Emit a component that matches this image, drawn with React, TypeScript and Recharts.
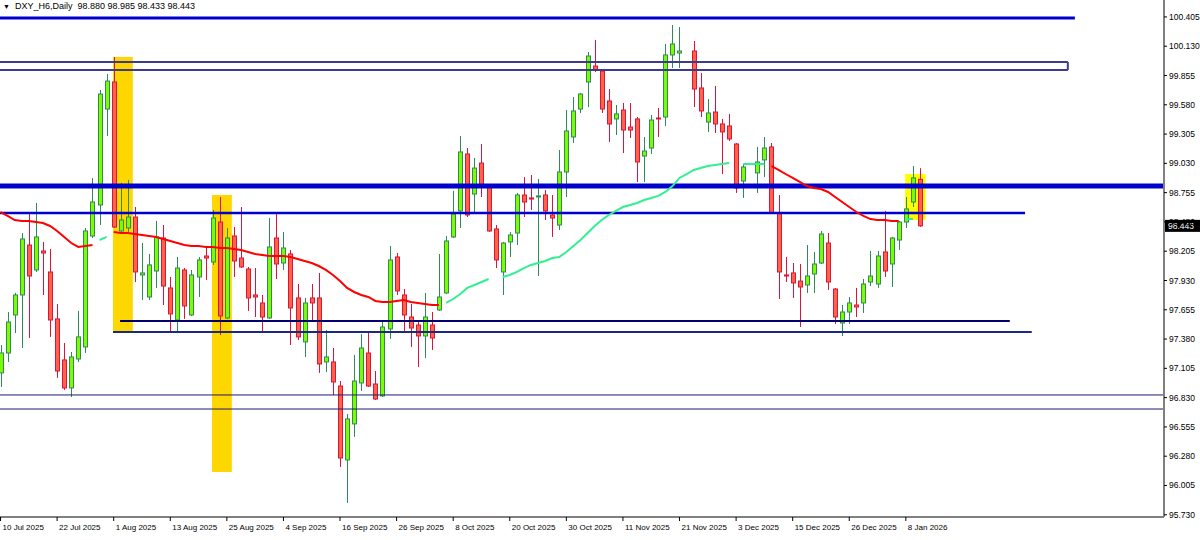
import { ComposedChart, Bar, Line, XAxis, YAxis, ReferenceLine, ReferenceArea } from 'recharts'

document.body.style.margin = '0'

const FONT = '"Liberation Sans", Arial, sans-serif'

// daily bars, 10 Jul 2025 .. 9 Jan 2026 (two days show no bar)
const opens = [
  97.062, 97.249, 97.606, 97.794, 98.263, 98.029, 98.207, 98.010, 97.569, 97.184,
  96.921, 97.193, 97.306, 98.348, 98.639, 99.540, 99.794, 98.395, 98.423, 98.526,
  97.982, 97.775, 98.019, 98.329, 97.860, 97.559, 98.029, 97.606, 97.963, 98.160,
  98.104, 98.479, 97.578, 98.348, 98.141, 98.038, 97.794, 97.719, 97.578, 98.329,
  98.094, 98.179, 97.766, 97.353, 97.766, 97.766, 97.165, 97.165, 96.939, 96.245,
  96.583, 96.968, 97.249, 96.958, 96.846, 97.475, 98.151, 97.794, 97.587, 97.512,
  97.409, 97.512, 97.653, 97.813, 98.339, 98.583, 99.118, 98.742, 99.033, 98.808,
  98.414, 98.010, 98.292, 98.376, 98.733, 98.705, 98.714, 98.733, 98.545, 98.451,
  98.949, 99.278, 99.540, 99.794, 99.944, 99.897, 99.616, 99.447, 99.531, 99.371,
  99.447, 99.099, 99.174, 99.456, 99.465, 100.048, 100.066, null, 100.085, 99.738,
  99.418, 99.512, 99.400, 99.381, 99.212, 98.864, null, 98.940, 99.062, 99.184,
  98.564, 97.982, 98.001, 97.925, 97.888, 97.991, 98.094, 98.282, 97.850, 97.531,
  97.634, 97.700, 97.719, 97.916, 97.897, 98.198, 98.085, 98.310, 98.479, 98.667,
  98.880,
]

const highs = [
  97.324, 97.634, 97.813, 98.376, 98.573, 98.658, 98.292, 98.226, 97.709, 97.343,
  97.259, 97.644, 98.423, 98.893, 99.719, 99.869, 100.029, 98.846, 98.874, 98.620,
  98.282, 98.179, 98.489, 98.451, 97.963, 98.151, 98.047, 98.029, 98.151, 98.254,
  98.592, 98.714, 98.423, 98.432, 98.620, 98.057, 98.047, 97.794, 98.517, 98.564,
  98.386, 98.216, 97.897, 97.766, 97.897, 98.001, 97.465, 97.296, 96.986, 96.677,
  97.231, 97.428, 97.437, 97.080, 97.540, 98.254, 98.188, 97.850, 97.709, 97.559,
  97.813, 97.634, 98.179, 98.348, 98.771, 99.287, 99.174, 99.080, 99.212, 98.817,
  98.451, 98.292, 98.386, 98.752, 98.902, 98.921, 98.883, 98.780, 98.733, 99.155,
  99.531, 99.653, 99.691, 100.076, 100.188, 99.907, 99.728, 99.578, 99.597, 99.597,
  99.465, 99.278, 99.484, 99.550, 100.151, 100.329, 100.310, null, 100.179, 99.879,
  99.634, 99.756, 99.447, 99.494, 99.221, 99.024, null, 99.184, 99.278, 99.221,
  98.733, 98.151, 98.094, 98.085, 98.263, 98.198, 98.395, 98.376, 97.860, 97.700,
  97.775, 97.860, 97.944, 98.207, 98.207, 98.583, 98.339, 98.489, 98.714, 99.005,
  98.985,
]

const lows = [
  96.930, 97.165, 97.437, 97.296, 97.390, 98.010, 97.794, 97.400, 97.015, 96.902,
  96.836, 97.165, 97.249, 98.329, 98.451, 99.287, 98.423, 98.376, 98.386, 97.916,
  97.747, 97.747, 97.860, 97.700, 97.437, 97.447, 97.569, 97.597, 97.775, 97.935,
  98.076, 97.418, 97.569, 97.963, 98.047, 97.644, 97.587, 97.447, 97.569, 97.944,
  98.029, 97.324, 97.371, 97.212, 97.559, 97.062, 97.071, 96.855, 96.179, 95.841,
  96.461, 96.893, 96.930, 96.808, 96.836, 97.381, 97.794, 97.456, 97.306, 97.118,
  97.202, 97.277, 97.644, 97.803, 98.329, 98.423, 98.526, 98.564, 98.714, 98.386,
  98.047, 97.794, 98.151, 98.263, 98.526, 98.592, 97.972, 98.498, 98.339, 98.404,
  98.714, 99.221, 99.503, 99.559, 99.888, 99.503, 99.231, 99.296, 99.127, 99.268,
  98.855, 98.855, 99.118, 99.278, 99.381, 99.925, 99.925, null, 99.559, 99.465,
  99.325, 99.315, 98.930, 99.240, 98.752, 98.705, null, 98.752, 98.902, 98.555,
  97.756, 97.916, 97.766, 97.493, 97.813, 97.813, 98.085, 97.841, 97.522, 97.409,
  97.522, 97.587, 97.625, 97.878, 97.860, 97.963, 97.869, 98.216, 98.423, 98.620,
  98.433,
]

const closes = [
  97.249, 97.540, 97.794, 98.320, 97.972, 98.339, 98.188, 97.559, 97.080, 96.921,
  97.212, 97.400, 98.395, 98.667, 99.681, 99.803, 98.432, 98.498, 98.526, 98.010,
  98.001, 98.076, 98.339, 97.878, 97.616, 98.047, 97.691, 97.982, 98.123, 98.141,
  98.517, 97.597, 98.329, 98.113, 98.057, 97.766, 97.775, 97.587, 98.245, 98.085,
  98.235, 97.672, 97.400, 97.719, 97.719, 97.146, 97.212, 96.977, 96.263, 96.630,
  96.986, 97.296, 96.939, 96.817, 97.493, 98.123, 97.832, 97.606, 97.484, 97.409,
  97.587, 97.390, 97.775, 98.301, 98.555, 99.137, 98.545, 98.986, 98.808, 98.395,
  98.123, 98.282, 98.357, 98.733, 98.667, 98.695, 98.724, 98.583, 98.517, 98.949,
  99.334, 99.522, 99.681, 100.038, 99.907, 99.540, 99.400, 99.494, 99.343, 99.343,
  99.043, 99.146, 99.437, 99.447, 100.048, 100.151, 100.085, null, 99.728, 99.522,
  99.503, 99.400, 99.325, 99.259, 98.799, 98.996, null, 99.043, 99.174, 98.564,
  98.010, 97.972, 97.907, 97.869, 97.972, 98.085, 98.367, 97.916, 97.587, 97.634,
  97.719, 97.681, 97.897, 97.972, 98.160, 98.019, 98.329, 98.479, 98.602, 98.893,
  98.443,
]

// moving average, split by slope colour
const maFalling = [
  98.573, 98.536, 98.498, 98.489, 98.489, 98.479, 98.470, 98.442, 98.395, 98.339,
  98.282, 98.245, 98.254, 98.263, null, null, 98.386, 98.376, 98.376, 98.367,
  98.357, 98.348, 98.339, 98.320, 98.301, 98.282, 98.263, 98.254, 98.254, 98.245,
  98.245, 98.235, 98.235, 98.226, 98.216, 98.198, 98.179, 98.170, 98.160, 98.160,
  98.160, 98.151, 98.132, 98.113, 98.094, 98.066, 98.029, 97.982, 97.925, 97.860,
  97.822, 97.794, 97.775, 97.738, 97.728, 97.728, 97.738, 97.747, 97.728, 97.719,
  97.709, 97.700, 97.700, null, null, null, null, null, null, null,
  null, null, null, null, null, null, null, null, null, null,
  null, null, null, null, null, null, null, null, null, null,
  null, null, null, null, null, null, null, null, null, null,
  null, null, null, null, null, null, null, null, null, 99.005,
  98.968, 98.930, 98.893, 98.855, 98.817, 98.799, 98.789, 98.761, 98.714, 98.667,
  98.620, 98.573, 98.536, 98.507, 98.498, 98.498, 98.489, 98.489, null, null,
  null,
]

const maRising = [
  null, null, null, null, null, null, null, null, null, null,
  null, null, null, null, 98.310, 98.339, null, null, null, null,
  null, null, null, null, null, null, null, null, null, null,
  null, null, null, null, null, null, null, null, null, null,
  null, null, null, null, null, null, null, null, null, null,
  null, null, null, null, null, null, null, null, null, null,
  null, null, null, 97.719, 97.756, 97.803, 97.860, 97.888, 97.916, 97.944,
  null, 97.963, 97.982, 98.010, 98.047, 98.076, 98.094, 98.113, 98.141, 98.151,
  98.198, 98.254, 98.310, 98.376, 98.442, 98.498, 98.545, 98.583, 98.620, 98.639,
  98.658, 98.686, 98.705, 98.724, 98.761, 98.817, 98.893, 98.930, 98.968, 98.986,
  99.005, 99.015, 99.024, 99.033, null, 99.024, 99.024, 99.024, 99.024, null,
  null, null, null, null, null, null, null, null, null, null,
  null, null, null, null, null, null, null, null, 98.507, 98.507,
  null,
]

const dateLabels = [
  '10 Jul 2025', '22 Jul 2025', '1 Aug 2025', '13 Aug 2025', '25 Aug 2025', '4 Sep 2025',
  '16 Sep 2025', '26 Sep 2025', '8 Oct 2025', '20 Oct 2025', '30 Oct 2025', '11 Nov 2025',
  '21 Nov 2025', '3 Dec 2025', '15 Dec 2025', '26 Dec 2025', '8 Jan 2026',
]
const LABEL_STEP = 8

const priceTicks = [
  100.405, 100.13, 99.855, 99.58, 99.305, 99.03, 98.755, 98.48, 98.205,
  97.93, 97.655, 97.38, 97.105, 96.83, 96.555, 96.28, 96.005, 95.73,
]

// drawn horizontal levels
const levelTop = 100.395
const boxHigh = 99.982
const boxLow = 99.907
const resistance = 98.817
const pivot = 98.564
const supportHigh = 97.55
const supportLow = 97.447
const floorHigh = 96.855
const floorLow = 96.723

// highlighted zones: [high, low]
const zoneAug1 = [100.029, 97.437]
const zoneAug22 = [98.733, 96.132]
const zoneJan = [98.93, 98.498]

const symbol = 'DXY_H6,Daily'

const rows = opens.map((o, i) => ({
  i,
  o,
  h: highs[i],
  l: lows[i],
  c: closes[i],
  maDown: maFalling[i],
  maUp: maRising[i],
}))

const tickIdx = dateLabels.map((_, k) => k * LABEL_STEP)
const last = rows[rows.length - 1]

const UP_BODY = '#7cfc00'
const UP_EDGE = '#2e8b57'
const DN_BODY = '#ff6347'
const DN_EDGE = '#dc143c'
const LINE_BLUE = '#0000cd'

function Candle(props: any) {
  const { x, y, width, height, payload } = props
  if (!payload || payload.o == null || y == null || height == null) return null
  const { o, h, l, c } = payload
  const top = Math.min(y, y + height)
  const span = Math.abs(height)
  const py = (p: number) => top + ((h - p) / (h - l)) * span
  const cx = Math.round(x + width / 2)
  const up = c >= o
  const bodyTop = py(Math.max(o, c))
  const bodyH = Math.max(1, py(Math.min(o, c)) - bodyTop)
  const edge = up ? UP_EDGE : DN_EDGE
  return (
    <g>
      <line x1={cx + 0.5} x2={cx + 0.5} y1={top} y2={top + span} stroke={edge} strokeWidth={1} />
      <rect
        x={cx - 1.5}
        y={bodyTop}
        width={4}
        height={bodyH}
        fill={up ? UP_BODY : DN_BODY}
        stroke={edge}
        strokeWidth={1}
      />
    </g>
  )
}

function DateTick({ x, y, payload }: any) {
  const label = dateLabels[Math.round(payload.value / LABEL_STEP)]
  return (
    <text x={x + 2} y={y + 7} fontSize={8} fontFamily={FONT} fill="#000" textAnchor="start">
      {label}
    </text>
  )
}

function LastPriceBadge(props: any) {
  const vb = props.viewBox
  if (!vb) return null
  const left = vb.x + vb.width + 1
  return (
    <g>
      <rect x={left} y={vb.y - 6} width={35} height={12} fill="#000" />
      <text x={left + 3} y={vb.y + 3.5} fontSize={8.5} fontFamily={FONT} fill="#fff">
        {last.c.toFixed(3)}
      </text>
    </g>
  )
}

function hLine(y: number, from: number, to: number, color: string, width: number) {
  return (
    <ReferenceLine
      key={`${y}-${from}`}
      segment={[{ x: from, y }, { x: to, y }]}
      stroke={color}
      strokeWidth={width}
      ifOverflow="visible"
    />
  )
}

export default function App() {
  return (
    <div style={{ position: 'relative', width: 1200, height: 540, background: '#fff', overflow: 'hidden' }}>
      <ComposedChart
        width={1200}
        height={540}
        data={rows}
        margin={{ top: 0, right: 0, bottom: 0, left: -3 }}
      >
        <XAxis
          dataKey="i"
          type="number"
          domain={[-0.5, 164.5]}
          allowDataOverflow
          ticks={tickIdx}
          interval={0}
          tick={<DateTick />}
          tickSize={4}
          tickLine={{ stroke: '#000' }}
          axisLine={{ stroke: '#808080', strokeWidth: 2 }}
          height={23}
        />
        <YAxis
          orientation="right"
          type="number"
          domain={[95.709, 100.564]}
          allowDataOverflow
          ticks={priceTicks}
          interval={0}
          width={36}
          tickSize={3}
          tickMargin={2}
          tickFormatter={(v: number) => v.toFixed(3)}
          tick={{ fontSize: 8.5, fill: '#000', fontFamily: FONT }}
          tickLine={{ stroke: '#000' }}
          axisLine={{ stroke: '#808080', strokeWidth: 2 }}
        />

        <ReferenceArea x1={15.9} x2={18.7} y1={zoneAug1[1]} y2={zoneAug1[0]} fill="#ffd700" fillOpacity={1} stroke="none" />
        <ReferenceArea x1={29.9} x2={32.7} y1={zoneAug22[1]} y2={zoneAug22[0]} fill="#ffd700" fillOpacity={1} stroke="none" />
        <ReferenceArea x1={127.9} x2={130.8} y1={zoneJan[1]} y2={zoneJan[0]} fill="#ffff00" fillOpacity={1} stroke="none" />

        {hLine(levelTop, -0.5, 151.9, LINE_BLUE, 3)}
        {hLine(boxHigh, -0.5, 150.9, '#3c3c8c', 2)}
        {hLine(boxLow, -0.5, 150.9, '#3c3c8c', 2)}
        <ReferenceLine
          segment={[{ x: 150.9, y: boxHigh }, { x: 150.9, y: boxLow }]}
          stroke="#3c3c8c"
          strokeWidth={2}
        />
        {hLine(resistance, -0.5, 164.5, LINE_BLUE, 5)}
        {hLine(pivot, -0.5, 144.85, LINE_BLUE, 2.5)}
        {hLine(supportHigh, 16.9, 142.7, '#000070', 2)}
        {hLine(supportLow, 15.9, 145.8, '#1a2a80', 2)}
        {hLine(floorHigh, -0.5, 164.5, '#1c1c6c', 1)}
        {hLine(floorLow, -0.5, 164.5, '#1c1c6c', 1)}

        <Bar
          dataKey={(d: any) => (d.o == null ? null : [d.l, d.h])}
          shape={<Candle />}
          barSize={5}
          isAnimationActive={false}
        />
        <Line
          dataKey="maDown"
          type="linear"
          stroke="#ff0000"
          strokeWidth={2}
          dot={false}
          activeDot={false}
          connectNulls={false}
          isAnimationActive={false}
        />
        <Line
          dataKey="maUp"
          type="linear"
          stroke="#30f090"
          strokeWidth={2}
          dot={false}
          activeDot={false}
          connectNulls={false}
          isAnimationActive={false}
        />

        <ReferenceLine y={last.c} stroke="none" label={<LastPriceBadge />} />
      </ComposedChart>
      <div
        style={{
          position: 'absolute',
          left: 3,
          top: 1,
          fontFamily: FONT,
          fontSize: 9,
          color: '#000',
          whiteSpace: 'pre',
        }}
      >
        <span style={{ fontSize: 7 }}>▼</span>
        {`  ${symbol}  ${last.o.toFixed(3)} ${last.h.toFixed(3)} ${last.l.toFixed(3)} ${last.c.toFixed(3)}`}
      </div>
    </div>
  )
}
